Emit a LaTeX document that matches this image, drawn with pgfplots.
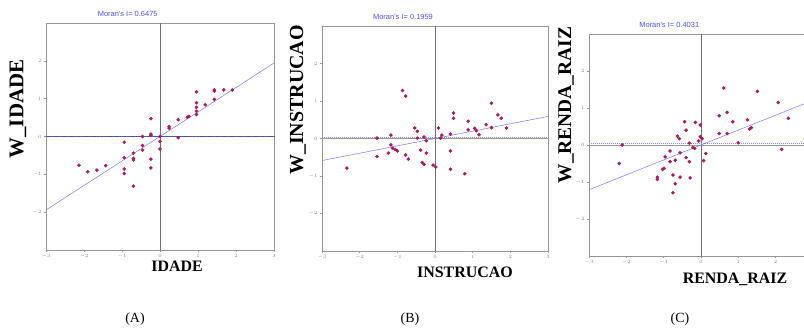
\documentclass[border=0pt]{standalone}
\usepackage{pgfplots}
\pgfplotsset{compat=1.18}
\usepackage{fontspec}
\setmainfont{Liberation Serif}
\newfontfamily\sansf{Liberation Sans}
\definecolor{ptc}{RGB}{165,30,90}
\definecolor{reg}{RGB}{120,120,255}
\definecolor{ttl}{RGB}{80,80,235}
\definecolor{frm}{RGB}{150,150,150}
\definecolor{zl}{RGB}{110,110,110}
\definecolor{zd}{RGB}{70,70,200}
\definecolor{zdl}{RGB}{140,140,255}
\pgfplotsset{moran/.style={
  scale only axis, anchor=south west,
  xmin=-3, xmax=3, ymin=-3, ymax=3,
  xtick={-3,...,3}, ytick={-2,...,2},
  tick label style={font=\fontsize{4.5}{5}\selectfont, text=gray},
  axis line style={frm, line width=0.7bp},
  tick style={frm, line width=0.5bp},
  tick align=outside, major tick length=2bp,
  xtick pos=bottom, ytick pos=left,
  xticklabel shift=-1bp, yticklabel shift=-1bp,
  clip=false}}
\begin{document}
\begin{tikzpicture}[x=1bp,y=1bp]
\clip (0bp,0bp) rectangle (804bp,330bp);
\fill[white] (0bp,0bp) rectangle (804bp,330bp);
% ---------- (A) ----------
\begin{axis}[moran, at={(46bp,80bp)}, width=228bp, height=227bp]
\addplot[zl, line width=0.7bp] coordinates {(0,-3) (0,3)};
\addplot[zl, line width=0.7bp] coordinates {(-3,0) (3,0)};
\addplot[zd, line width=0.9bp, dash pattern=on 1.5bp off 0.8bp] coordinates {(-3,0) (3,0)};
\addplot[reg, line width=0.5bp] coordinates {(-3,-1.9425) (3,1.9425)};
\addplot[only marks, mark=*, mark size=1.6bp, ptc] coordinates {
(-2.13,-0.76) (-1.90,-0.93) (-1.66,-0.89) (-1.43,-0.77)
(-0.94,-0.15) (-0.94,-0.56) (-0.94,-0.86) (-0.94,-0.98)
(-0.70,-0.44) (-0.70,-0.58) (-0.70,-0.62) (-0.70,-1.31)
(-0.46,0.0) (-0.46,-0.24) (-0.46,-0.36)
(-0.24,0.47) (-0.24,0.06) (-0.24,0.03) (-0.24,-0.60) (-0.24,-0.83)
(0,0) (0,-0.13) (0,-0.33)
(0.24,0.22) (0.24,0.26)
(0.48,0.44) (0.48,-0.03)
(0.72,0.51) (0.76,0.53)
(0.96,1.18) (0.96,0.89) (0.96,0.77) (0.96,0.67) (0.96,0.58)
(1.19,0.84)
(1.43,1.23) (1.43,1.20) (1.43,0.98)
(1.68,1.23) (1.90,1.23)};
\node[font=\sansf\fontsize{7.5}{8}\selectfont, text=ttl, anchor=south] at (axis cs:-0.85,3) [yshift=3bp] {Moran's I= 0.6475};
\end{axis}
% ---------- (B) ----------
\begin{axis}[moran, at={(322bp,79bp)}, width=226bp, height=225bp]
\addplot[zl, line width=0.7bp] coordinates {(0,-3) (0,3)};
\addplot[frm, line width=0.8bp] coordinates {(-3,0) (3,0)};
\addplot[zdl, line width=0.8bp, dash pattern=on 1bp off 1bp] coordinates {(-3,0.04) (3,0.04)};
\addplot[reg, line width=0.5bp] coordinates {(-3,-0.5877) (3,0.5877)};
\addplot[only marks, mark=*, mark size=1.6bp, ptc] coordinates {
(-2.34,-0.79) (-1.54,0.01) (-1.54,-0.48) (-1.24,-0.39)
(-1.17,0.09) (-1.17,-0.17) (-1.13,-0.26) (-1.06,-0.29) (-1.00,-0.33)
(-0.86,1.28) (-0.78,1.13) (-0.78,-0.44) (-0.71,-0.55)
(-0.54,0.28) (-0.47,0.19) (-0.47,0.01) (-0.38,-0.31) (-0.34,-0.64)
(-0.29,-0.69) (-0.29,0.04) (-0.23,-0.06) (-0.23,-0.39)
(-0.05,-0.71) (0.02,-0.76) (0.09,0.28) (0.15,0.01) (0.18,0.09)
(0.41,0.12) (0.41,-0.33) (0.41,-0.82) (0.49,0.68) (0.49,0.54)
(0.79,-0.94) (0.88,0.46) (0.88,0.23) (1.05,0.27) (1.10,0.21)
(1.17,0.10) (1.36,0.37) (1.50,0.94) (1.50,0.29) (1.67,0.63)
(1.76,0.54) (1.90,0.28)};
\node[font=\sansf\fontsize{7.5}{8}\selectfont, text=ttl, anchor=south] at (axis cs:-0.85,3) [yshift=3bp] {Moran's I= 0.1959};
\end{axis}
% ---------- (C) ----------
\begin{axis}[moran, at={(589bp,74bp)}, width=224bp, height=222bp, xtick={-3,...,2}]
\addplot[zl, line width=0.7bp] coordinates {(0,-3) (0,3)};
\addplot[frm, line width=0.8bp] coordinates {(-3,0) (3,0)};
\addplot[zdl, line width=0.8bp, dash pattern=on 1bp off 1bp] coordinates {(-3,0.03) (3,0.03)};
\addplot[reg, line width=0.5bp] coordinates {(-3,-1.2093) (3,1.2093)};
\addplot[only marks, mark=*, mark size=1.6bp, ptc] coordinates {
(-2.19,-0.50) (-2.11,0.0) (-1.17,-0.87) (-1.17,-0.93) (-1.03,-0.66)
(-0.99,-0.63) (-0.96,-0.32) (-0.83,-0.16) (-0.83,-0.45) (-0.75,-0.81)
(-0.75,-1.29) (-0.69,-0.41) (-0.69,-1.05) (-0.63,0.24) (-0.58,0.17)
(-0.56,-0.87) (-0.56,-0.21) (-0.44,0.63) (-0.40,0.40) (-0.40,-0.34)
(-0.31,0.05) (-0.31,-0.45) (-0.29,-0.89) (-0.22,-0.07) (-0.17,-0.09)
(-0.15,0.61) (-0.06,0.11) (-0.02,0.54) (-0.02,0.22) (0.03,0.17)
(0.07,-0.42) (0.13,-0.23) (0.49,0.31) (0.49,0.79) (0.61,1.54)
(0.70,0.88) (0.70,0.31) (0.85,0.63) (1.00,0.06) (1.24,0.68)
(1.30,0.43) (1.35,0.47) (1.51,1.45) (2.07,1.15) (2.16,-0.12) (2.34,0.72)};
\node[font=\sansf\fontsize{7.5}{8}\selectfont, text=ttl, anchor=south] at (axis cs:-0.85,3) [yshift=3bp] {Moran's I= 0.4031};
\end{axis}
% ---------- labels ----------
\node[font=\bfseries\fontsize{16}{18}\selectfont] at (177bp,64bp) {IDADE};
\node[font=\bfseries\fontsize{21}{23}\selectfont, rotate=90] at (18bp,221bp) {W\_IDADE};
\node[font=\bfseries\fontsize{16}{18}\selectfont] at (465bp,58bp) {INSTRUCAO};
\node[font=\bfseries\fontsize{20}{22}\selectfont, rotate=90] at (298bp,230bp) {W\_INSTRUCAO};
\node[font=\bfseries\fontsize{16}{18}\selectfont] at (735bp,51bp) {RENDA\_RAIZ};
\node[font=\bfseries\fontsize{19.5}{22}\selectfont, rotate=90] at (566bp,225bp) {W\_RENDA\_RAIZ};
\node[font=\fontsize{14}{16}\selectfont] at (135bp,11bp) {(A)};
\node[font=\fontsize{14}{16}\selectfont] at (410bp,11bp) {(B)};
\node[font=\fontsize{14}{16}\selectfont] at (680bp,11bp) {(C)};
\end{tikzpicture}
\end{document}
